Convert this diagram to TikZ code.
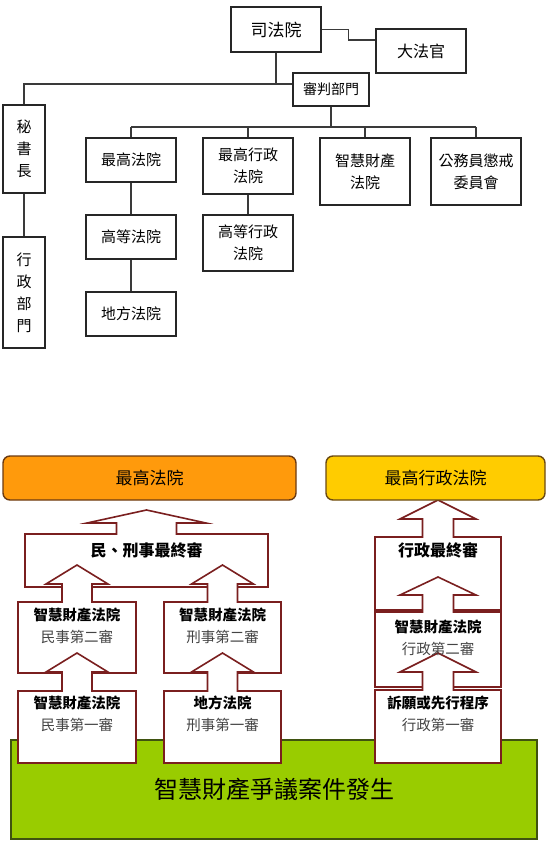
\documentclass[tikz,border=0pt]{standalone}
\usepackage{fontspec}
\setmainfont{Noto Sans CJK TC}
\usetikzlibrary{positioning}

\definecolor{boxline}{HTML}{262626}
\definecolor{treeline}{HTML}{3A3A3A}
\definecolor{arrowline}{HTML}{7A1F1F}
\definecolor{courtorange}{HTML}{FF9A0C}
\definecolor{orangeedge}{HTML}{6B3A12}
\definecolor{courtyellow}{HTML}{FFCC00}
\definecolor{yellowedge}{HTML}{6B4A12}
\definecolor{groundgreen}{HTML}{99CC00}
\definecolor{groundedge}{HTML}{3F5210}
\definecolor{subgray}{HTML}{444444}

% box with an up arrow on top: left, right, top, bottom, head half, shaft half, head base, tip
\newcommand{\blockarrow}[8]{%
  \pgfmathsetmacro{\bx}{(#1+#2)/2}
  \draw [arrowbox] (#1,#4) -- (#1,#3) -- (\bx-#6,#3) -- (\bx-#6,#7) -- (\bx-#5,#7) -- (\bx,#8)
    -- (\bx+#5,#7) -- (\bx+#6,#7) -- (\bx+#6,#3) -- (#2,#3) -- (#2,#4) -- cycle;}

\begin{document}
\begin{tikzpicture}[x=1pt, y=-1pt,
    orgbox/.style={draw=boxline, line width=1.8pt, fill=white, inner sep=0pt, align=center, minimum width=90pt, font=\fontsize{15}{22}\selectfont},
    wire/.style={draw=treeline, line width=1.1pt},
    arrowbox/.style={draw=arrowline, line width=1.6pt, fill=white},
    courtbar/.style={rounded corners=7pt, line width=1.4pt, minimum height=44pt, font=\fontsize{17}{20}\selectfont},
    lbl/.style={align=center, inner sep=0pt, font=\bfseries\fontsize{16}{20}\selectfont},
    sublbl/.style={align=center, inner sep=0pt, font=\fontsize{14.5}{22}\selectfont}]
    \useasboundingbox (0,0) rectangle (554,841);

    % court organisation
    \node [orgbox, minimum height=45pt, font=\fontsize{17}{20}\selectfont] (Judicial) at (276,29.5) {司法院};
    \node [orgbox, minimum height=44pt, font=\fontsize{16}{20}\selectfont] (Justices) at (421,51) {大法官};
    \node [orgbox, minimum width=76pt, minimum height=33pt, font=\fontsize{14}{18}\selectfont] (Trial) at (331,89.5) {審判部門};
    \node [orgbox, minimum width=42pt, minimum height=88pt] (SecGen) at (24,149) {秘\\書\\長};
    \node [orgbox, minimum width=42pt, minimum height=111pt] (Admin) at (24,292.5) {行\\政\\部\\門};
    \node [orgbox, minimum height=44pt] (Supreme) at (131,160) {最高法院};
    \node [orgbox, minimum height=56pt] (SupAdm) at (248,166) {最高行政\\法院};
    \node [orgbox, minimum height=67pt] (IPC) at (365,171.5) {智慧財產\\法院};
    \node [orgbox, minimum height=67pt] (Discipline) at (476,171.5) {公務員懲戒\\委員會};
    \node [orgbox, minimum height=44pt] (High) at (131,237) {高等法院};
    \node [orgbox, minimum height=44pt] (District) at (131,314) {地方法院};
    \node [orgbox, minimum height=56pt] (HighAdm) at (248,243) {高等行政\\法院};

    \coordinate (TopBus) at (0,84);
    \coordinate (CourtBus) at (0,127);
    \draw [wire] (Judicial.east) -- ++(27,0) |- ([yshift=11pt]Justices.west);
    \draw [wire] (Judicial.south) -- (Judicial.south |- TopBus);
    \draw [wire] (SecGen.north) |- (TopBus -| Trial.west);
    \draw [wire] (SecGen) -- (Admin);
    \draw [wire] (Trial.south) -- (Trial.south |- CourtBus);
    \draw [wire] (Supreme.north |- CourtBus) -- (Discipline.north |- CourtBus);
    \foreach \c in {Supreme, SupAdm, IPC, Discipline}
        \draw [wire] (\c.north) -- (\c.north |- CourtBus);
    \draw [wire] (Supreme) -- (High);
    \draw [wire] (High) -- (District);
    \draw [wire] (SupAdm) -- (HighAdm);

    % appeal routes
    \node [draw=groundedge, fill=groundgreen, line width=1.2pt, minimum width=526pt, minimum height=99pt, inner sep=0pt,
           font=\fontsize{24}{28}\selectfont] (Ground) at (274,789.5) {智慧財產爭議案件發生};

    \blockarrow{25}{268}{534}{587}{59.5}{30}{523}{510}
    \blockarrow{18}{136}{602}{673}{31}{15}{584}{565}
    \blockarrow{164}{281}{602}{673}{31}{15}{584}{565}
    \blockarrow{18}{136}{691}{763}{31}{15}{672}{653}
    \blockarrow{164}{281}{691}{763}{31}{15}{672}{653}
    \blockarrow{375}{501}{537}{610}{38}{15.5}{519}{500}
    \blockarrow{375}{501}{612}{687}{38}{15.5}{595}{577}
    \blockarrow{375}{501}{690}{763}{38}{15.5}{672}{653}

    \node [courtbar, draw=orangeedge, fill=courtorange, minimum width=293pt] (TopCourt) at (149.5,478) {最高法院};
    \node [courtbar, draw=yellowedge, fill=courtyellow, minimum width=219pt] (TopAdm) at (435.5,478) {最高行政法院};

    \node [lbl] (Final) at (146.5,550) {民、刑事最終審};
    \node [lbl] (FinalAdm) at (438,550) {行政最終審};
    \node [sublbl] (CivTwo) at (77,626) {{\bfseries 智慧財產法院}\\{\color{subgray}民事第二審}};
    \node [sublbl] (CrimTwo) at (222.5,626) {{\bfseries 智慧財產法院}\\{\color{subgray}刑事第二審}};
    \node [sublbl] (CivOne) at (77,714) {{\bfseries 智慧財產法院}\\{\color{subgray}民事第一審}};
    \node [sublbl] (CrimOne) at (222.5,714) {{\bfseries 地方法院}\\{\color{subgray}刑事第一審}};
    \node [sublbl] (AdmTwo) at (438,638) {{\bfseries 智慧財產法院}\\{\color{subgray}行政第二審}};
    \node [sublbl] (AdmOne) at (438,714) {{\bfseries 訴願或先行程序}\\{\color{subgray}行政第一審}};
\end{tikzpicture}
\end{document}
